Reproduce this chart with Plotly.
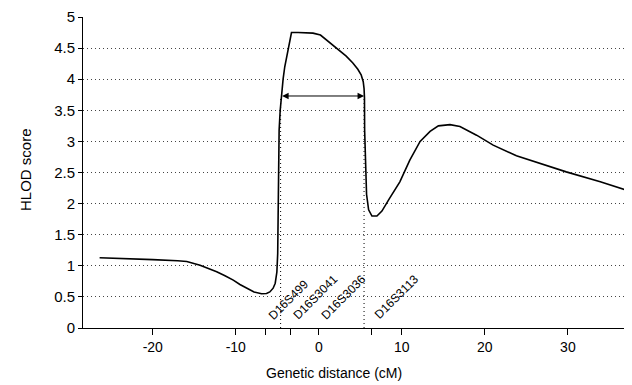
import plotly.graph_objects as go

# HLOD curve (genetic distance in cM, HLOD score)
dist_cm = [-26.4, -23.0, -20.0, -17.0, -15.9, -14.3, -13.3, -12.3, -11.3, -10.3, -9.5, -8.7,
           -7.8, -6.9, -6.3, -5.9, -5.5, -5.25, -5.05, -4.95, -4.9, -4.85, -4.78, -4.65,
           -4.5, -4.3, -4.1, -3.85, -3.58, -3.4, -3.29, -2.5, -1.9, -1.3, -0.7, 0.2,
           0.93, 1.7, 2.5, 3.3, 4.1, 4.7, 5.1, 5.35, 5.45, 5.5, 5.52, 5.6, 5.75, 6.0,
           6.4, 7.0, 7.6, 8.5, 9.76, 10.96, 12.2, 13.4, 14.4, 15.8, 17.0, 19.0, 21.0,
           23.8, 26.6, 29.8, 33.9, 37.2]
hlod = [1.13, 1.12, 1.10, 1.08, 1.07, 1.01, 0.96, 0.905, 0.84, 0.77, 0.70, 0.64,
        0.58, 0.55, 0.555, 0.58, 0.64, 0.72, 0.90, 1.20, 1.60, 2.20, 3.18, 3.50,
        3.75, 4.00, 4.20, 4.37, 4.52, 4.65, 4.75, 4.75, 4.75, 4.74, 4.74, 4.71,
        4.63, 4.56, 4.47, 4.37, 4.26, 4.16, 4.07, 3.96, 3.85, 3.70, 3.18, 2.60, 2.15, 1.90,
        1.80, 1.80, 1.88, 2.08, 2.35, 2.70, 3.00, 3.16, 3.25, 3.27, 3.24, 3.10, 2.94,
        2.77, 2.65, 2.51, 2.35, 2.21]

# Markers
marker_names = ["D16S499", "D16S3041", "D16S3036", "D16S3113"]
marker_pos = [-6.4, -3.4, 0.0, 6.4]

# Support interval (1-LOD drop)
interval = [-4.6, 5.45]
interval_level = 3.73

x_ticks = [-20, -10, 0, 10, 20, 30]
y_ticks = [0, 0.5, 1, 1.5, 2, 2.5, 3, 3.5, 4, 4.5, 5]
y_ticklabels = ["0", "0.5", "1", "1.5", "2", "2.5", "3", "3.5", "4", "4.5", "5"]

FONT = "Liberation Sans, Arial, sans-serif"

fig = go.Figure()
fig.add_trace(go.Scatter(x=dist_cm, y=hlod, mode="lines",
                         line=dict(color="black", width=1.6), hoverinfo="skip",
                         showlegend=False))

# dotted vertical lines at interval bounds
for xv in interval:
    fig.add_shape(type="line", x0=xv, x1=xv, y0=0, y1=interval_level, xref="x", yref="y",
                  line=dict(color="black", width=1, dash="1px,3px"))

# double-headed arrow
fig.add_annotation(x=interval[1], y=interval_level, ax=interval[0], ay=interval_level,
                   xref="x", yref="y", axref="x", ayref="y", text="",
                   showarrow=True, arrowhead=2, startarrowhead=2, arrowside="end+start",
                   arrowsize=1.3, startarrowsize=1.3, arrowwidth=1, arrowcolor="black")

# marker labels
for name, pos in zip(marker_names, marker_pos):
    fig.add_annotation(x=pos, y=0, xref="x", yref="y", text=name, showarrow=False,
                       textangle=-45, xanchor="left", yanchor="bottom",
                       xshift=-3, yshift=3,
                       font=dict(family=FONT, size=12, color="black"))

# axis titles
fig.add_annotation(x=(334 - 83) / 548, y=-45 / 311, xref="paper", yref="paper",
                   text="Genetic distance (cM)", showarrow=False,
                   xanchor="center", yanchor="middle",
                   font=dict(family=FONT, size=14, color="black"))
fig.add_annotation(x=-58 / 548, y=(328 - 170) / 311, xref="paper", yref="paper",
                   text="HLOD score", showarrow=False, textangle=-90,
                   xanchor="center", yanchor="middle",
                   font=dict(family=FONT, size=15, color="black"))

tickvals = x_ticks + marker_pos
ticktext = [str(v) for v in x_ticks] + ["" for _ in marker_pos]

# page body has an 8px margin: figure sized/offset to compensate
fig.update_layout(
    width=624, height=377,
    margin=dict(l=75, r=1, t=9, b=57),
    paper_bgcolor="white", plot_bgcolor="white",
    font=dict(family=FONT, size=14, color="black"),
    xaxis=dict(range=[-28.4, 37.6], tickvals=tickvals, ticktext=ticktext,
               showgrid=False, zeroline=False, showline=True, linecolor="black",
               linewidth=1, ticks="outside", ticklen=6, tickcolor="black",
               tickfont=dict(size=14), automargin=False),
    yaxis=dict(range=[0, 5], tickvals=y_ticks, ticktext=y_ticklabels,
               showgrid=True, gridcolor="#444", gridwidth=1, griddash="1px,3px",
               zeroline=False, showline=True, linecolor="black", linewidth=1,
               ticks="outside", ticklen=4, tickcolor="black", tickfont=dict(size=15),
               automargin=False),
)

fig.write_html("out.html")
